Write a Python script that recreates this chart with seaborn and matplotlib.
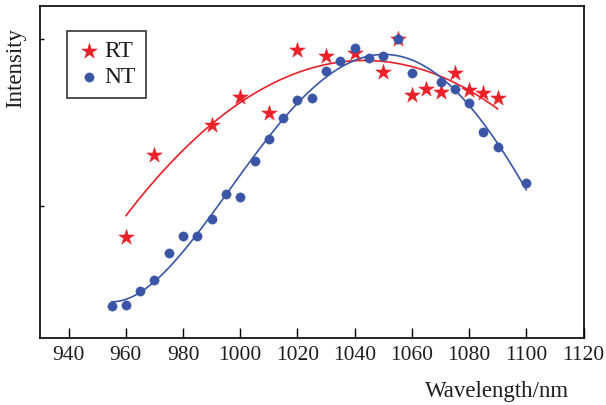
import matplotlib
matplotlib.use("Agg")
import matplotlib.pyplot as plt
import seaborn as sns
import pandas as pd

rt_wavelength = [960, 970, 990, 1000, 1010, 1020, 1030, 1040, 1050, 1055, 1060, 1065, 1070, 1075, 1080, 1085, 1090]
rt_intensity = [0.407, 0.652, 0.744, 0.826, 0.780, 0.969, 0.949, 0.959, 0.901, 1.001, 0.833, 0.851, 0.842, 0.899, 0.848, 0.839, 0.824]

nt_wavelength = [955, 960, 965, 970, 975, 980, 985, 990, 995, 1000, 1005, 1010, 1015, 1020, 1025, 1030, 1035, 1040, 1045, 1050, 1055, 1060, 1070, 1075, 1080, 1085, 1090, 1100]
nt_intensity = [0.201, 0.204, 0.246, 0.280, 0.359, 0.410, 0.410, 0.461, 0.536, 0.528, 0.635, 0.700, 0.764, 0.817, 0.823, 0.904, 0.936, 0.973, 0.944, 0.951, 1.001, 0.899, 0.872, 0.850, 0.808, 0.723, 0.678, 0.568]

x_ticks = [940, 960, 980, 1000, 1020, 1040, 1060, 1080, 1100, 1120]
y_ticks = [0.5, 1.0]

RED = "#EA2128"
BLUE = "#3A55A5"
TEXT = "#1e1e1e"

rt = pd.DataFrame({"Wavelength": rt_wavelength, "Intensity": rt_intensity})
nt = pd.DataFrame({"Wavelength": nt_wavelength, "Intensity": nt_intensity})

sns.set_theme(style="white")
plt.rcParams["font.family"] = ["Liberation Serif", "DejaVu Serif"]

fig = plt.figure(figsize=(6.06, 4.05), dpi=100)
ax = fig.add_axes([0.066, 0.165, 0.897, 0.820])

sns.regplot(data=rt, x="Wavelength", y="Intensity", order=2, ci=None, scatter=False,
            truncate=True, color=RED, line_kws={"linewidth": 1.2}, ax=ax)
sns.regplot(data=nt, x="Wavelength", y="Intensity", order=4, ci=None, scatter=False,
            truncate=True, color=BLUE, line_kws={"linewidth": 1.2}, ax=ax)
sns.scatterplot(data=rt, x="Wavelength", y="Intensity", marker="*", s=140, color=RED,
                edgecolor=RED, linewidth=0.3, label="RT", ax=ax, zorder=3)
sns.scatterplot(data=nt, x="Wavelength", y="Intensity", marker="o", s=45, color=BLUE,
                edgecolor=BLUE, linewidth=0.3, label="NT", ax=ax, zorder=4)

ax.set_xlim(930, 1120)
ax.set_ylim(0.105, 1.099)
ax.set_xticks(x_ticks)
ax.set_xticklabels([str(t) for t in x_ticks], fontsize=15.5)
ax.set_yticks(y_ticks)
ax.set_yticklabels([])
ax.tick_params(axis="x", direction="in", length=7, width=1.0, color="black",
               bottom=True, pad=5.5, labelcolor=TEXT)
ax.tick_params(axis="y", direction="in", length=3, width=1.0, color="black",
               left=True)
for sp in ax.spines.values():
    sp.set_color("black")
    sp.set_linewidth(1.2)

ax.set_xlabel("Wavelength/nm", fontsize=16.5, color=TEXT)
ax.xaxis.set_label_coords(0.840, -0.128)
ax.set_ylabel("Intensity", fontsize=16.5, color=TEXT)
ax.yaxis.set_label_coords(-0.025, 0.815)

leg = ax.legend(loc="upper left", bbox_to_anchor=(0.0498, 0.926), fontsize=17, frameon=True,
                fancybox=False, edgecolor="black", handletextpad=0.15, borderpad=0.42,
                labelspacing=0.2, handlelength=1.0, borderaxespad=0)
leg.get_frame().set_linewidth(1.2)
for t in leg.get_texts():
    t.set_color(TEXT)

fig.savefig("out.png", dpi=100)
